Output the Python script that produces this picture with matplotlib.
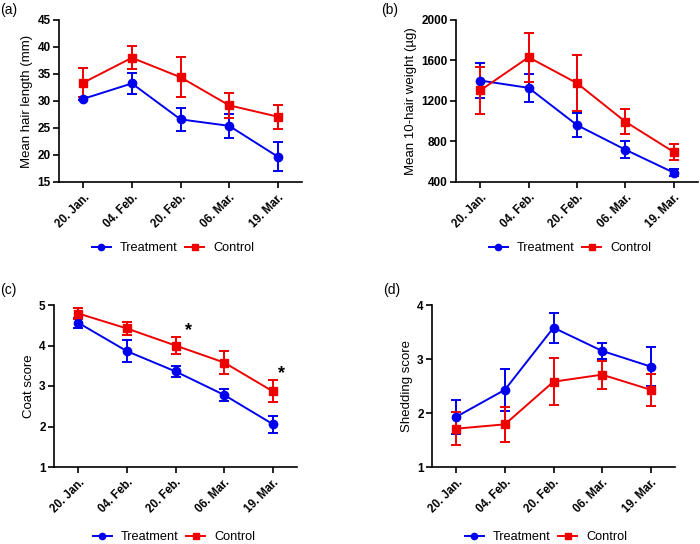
import matplotlib
matplotlib.use("Agg")
import matplotlib.pyplot as plt
from matplotlib.ticker import FixedLocator
from matplotlib.lines import Line2D

plt.rcParams['font.family'] = ['Liberation Sans', 'DejaVu Sans']

dates = ["20. Jan.", "04. Feb.", "20. Feb.", "06. Mar.", "19. Mar."]

# (a) Mean hair length (mm)
a_treat = [30.4, 33.25, 26.6, 25.4, 19.7]
a_treat_err = [0.3, 2.0, 2.1, 2.25, 2.7]
a_ctrl = [33.4, 38.0, 34.4, 29.2, 27.1]
a_ctrl_err = [2.7, 2.15, 3.7, 2.3, 2.25]

# (b) Mean 10-hair weight (µg)
b_treat = [1402, 1330, 962, 719, 492]
b_treat_err = [176, 138, 122, 82, 36]
b_ctrl = [1304, 1632, 1376, 995, 696]
b_ctrl_err = [236, 243, 274, 125, 77]

# (c) Coat score
c_treat = [4.56, 3.86, 3.36, 2.78, 2.06]
c_treat_err = [0.12, 0.27, 0.14, 0.15, 0.21]
c_ctrl = [4.79, 4.42, 4.0, 3.58, 2.87]
c_ctrl_err = [0.14, 0.16, 0.21, 0.29, 0.27]

# (d) Shedding score
d_treat = [1.93, 2.43, 3.58, 3.15, 2.86]
d_treat_err = [0.32, 0.39, 0.275, 0.145, 0.36]
d_ctrl = [1.71, 1.79, 2.58, 2.71, 2.43]
d_ctrl_err = [0.31, 0.33, 0.43, 0.26, 0.30]

panels = [
    dict(label="(a)", ylabel="Mean hair length (mm)", t=a_treat, te=a_treat_err,
         c=a_ctrl, ce=a_ctrl_err, ylim=(15, 45), yticks=[15, 20, 25, 30, 35, 40, 45],
         rect=[59, 20, 302, 182], lab=(0, 3), leg=(173, 248)),
    dict(label="(b)", ylabel="Mean 10-hair weight (µg)", t=b_treat, te=b_treat_err,
         c=b_ctrl, ce=b_ctrl_err, ylim=(400, 2000), yticks=[400, 800, 1200, 1600, 2000],
         rect=[456, 20, 698, 182], lab=(381, 3), leg=(570, 248)),
    dict(label="(c)", ylabel="Coat score", t=c_treat, te=c_treat_err,
         c=c_ctrl, ce=c_ctrl_err, ylim=(1, 5), yticks=[1, 2, 3, 4, 5],
         rect=[54, 305, 297, 467], lab=(0, 283), leg=(174, 537)),
    dict(label="(d)", ylabel="Shedding score", t=d_treat, te=d_treat_err,
         c=d_ctrl, ce=d_ctrl_err, ylim=(1, 4), yticks=[1, 2, 3, 4],
         rect=[432, 305, 675, 467], lab=(383, 283), leg=(546, 537)),
]

W, H = 700, 544
fig = plt.figure(figsize=(7, 5.44), dpi=100)
blue = "#0000ee"
red = "#ee0000"
x = list(range(len(dates)))

for p in panels:
    l, t, r, b = p["rect"]
    ax = fig.add_axes([l / W, 1 - b / H, (r - l) / W, (b - t) / H])
    ax.errorbar(x, p["t"], yerr=p["te"], color=blue, marker="o", markersize=6,
                linewidth=1.4, elinewidth=1.4, capsize=3.5, capthick=1.4,
                zorder=3)
    ax.errorbar(x, p["c"], yerr=p["ce"], color=red, marker="s", markersize=6,
                linewidth=1.4, elinewidth=1.4, capsize=3.5, capthick=1.4,
                zorder=3)
    ax.set_xlim(-0.5, 4.5)
    ax.set_ylim(*p["ylim"])
    ax.yaxis.set_major_locator(FixedLocator(p["yticks"]))
    ax.set_xticks(x)
    ax.set_xticklabels(dates, rotation=45, ha="right", rotation_mode="anchor",
                       fontweight="bold", fontsize=8.3)
    for lbl in ax.get_yticklabels():
        lbl.set_fontweight("bold")
        lbl.set_fontsize(8.5)
    ax.set_ylabel(p["ylabel"], fontsize=9.5, labelpad=3)
    ax.spines["top"].set_visible(False)
    ax.spines["right"].set_visible(False)
    ax.spines["left"].set_linewidth(1.2)
    ax.spines["bottom"].set_linewidth(1.2)
    ax.tick_params(direction="out", length=4, width=1.2, pad=2)
    ax.tick_params(axis="x", pad=3)
    ax.patch.set_alpha(0)
    fig.text(p["lab"][0] / W, 1 - p["lab"][1] / H, p["label"], fontsize=10,
             ha="left", va="top")
    handles = [Line2D([], [], color=blue, marker="o", markersize=4.5, linewidth=1.4),
               Line2D([], [], color=red, marker="s", markersize=4.5, linewidth=1.4)]
    lx, ly = p["leg"]
    fig.legend(handles, ["Treatment", "Control"], loc="center",
               bbox_to_anchor=(lx / W, 1 - ly / H),
               ncol=2, frameon=False, fontsize=9.2, handlelength=1.5,
               columnspacing=0.6, handletextpad=0.7)
    if p["label"] == "(c)":
        ax.text(2.26, 4.38, "*", fontsize=13, fontweight="bold", ha="center", va="center")
        ax.text(4.18, 3.30, "*", fontsize=13, fontweight="bold", ha="center", va="center")

fig.savefig("out.png", dpi=100)
